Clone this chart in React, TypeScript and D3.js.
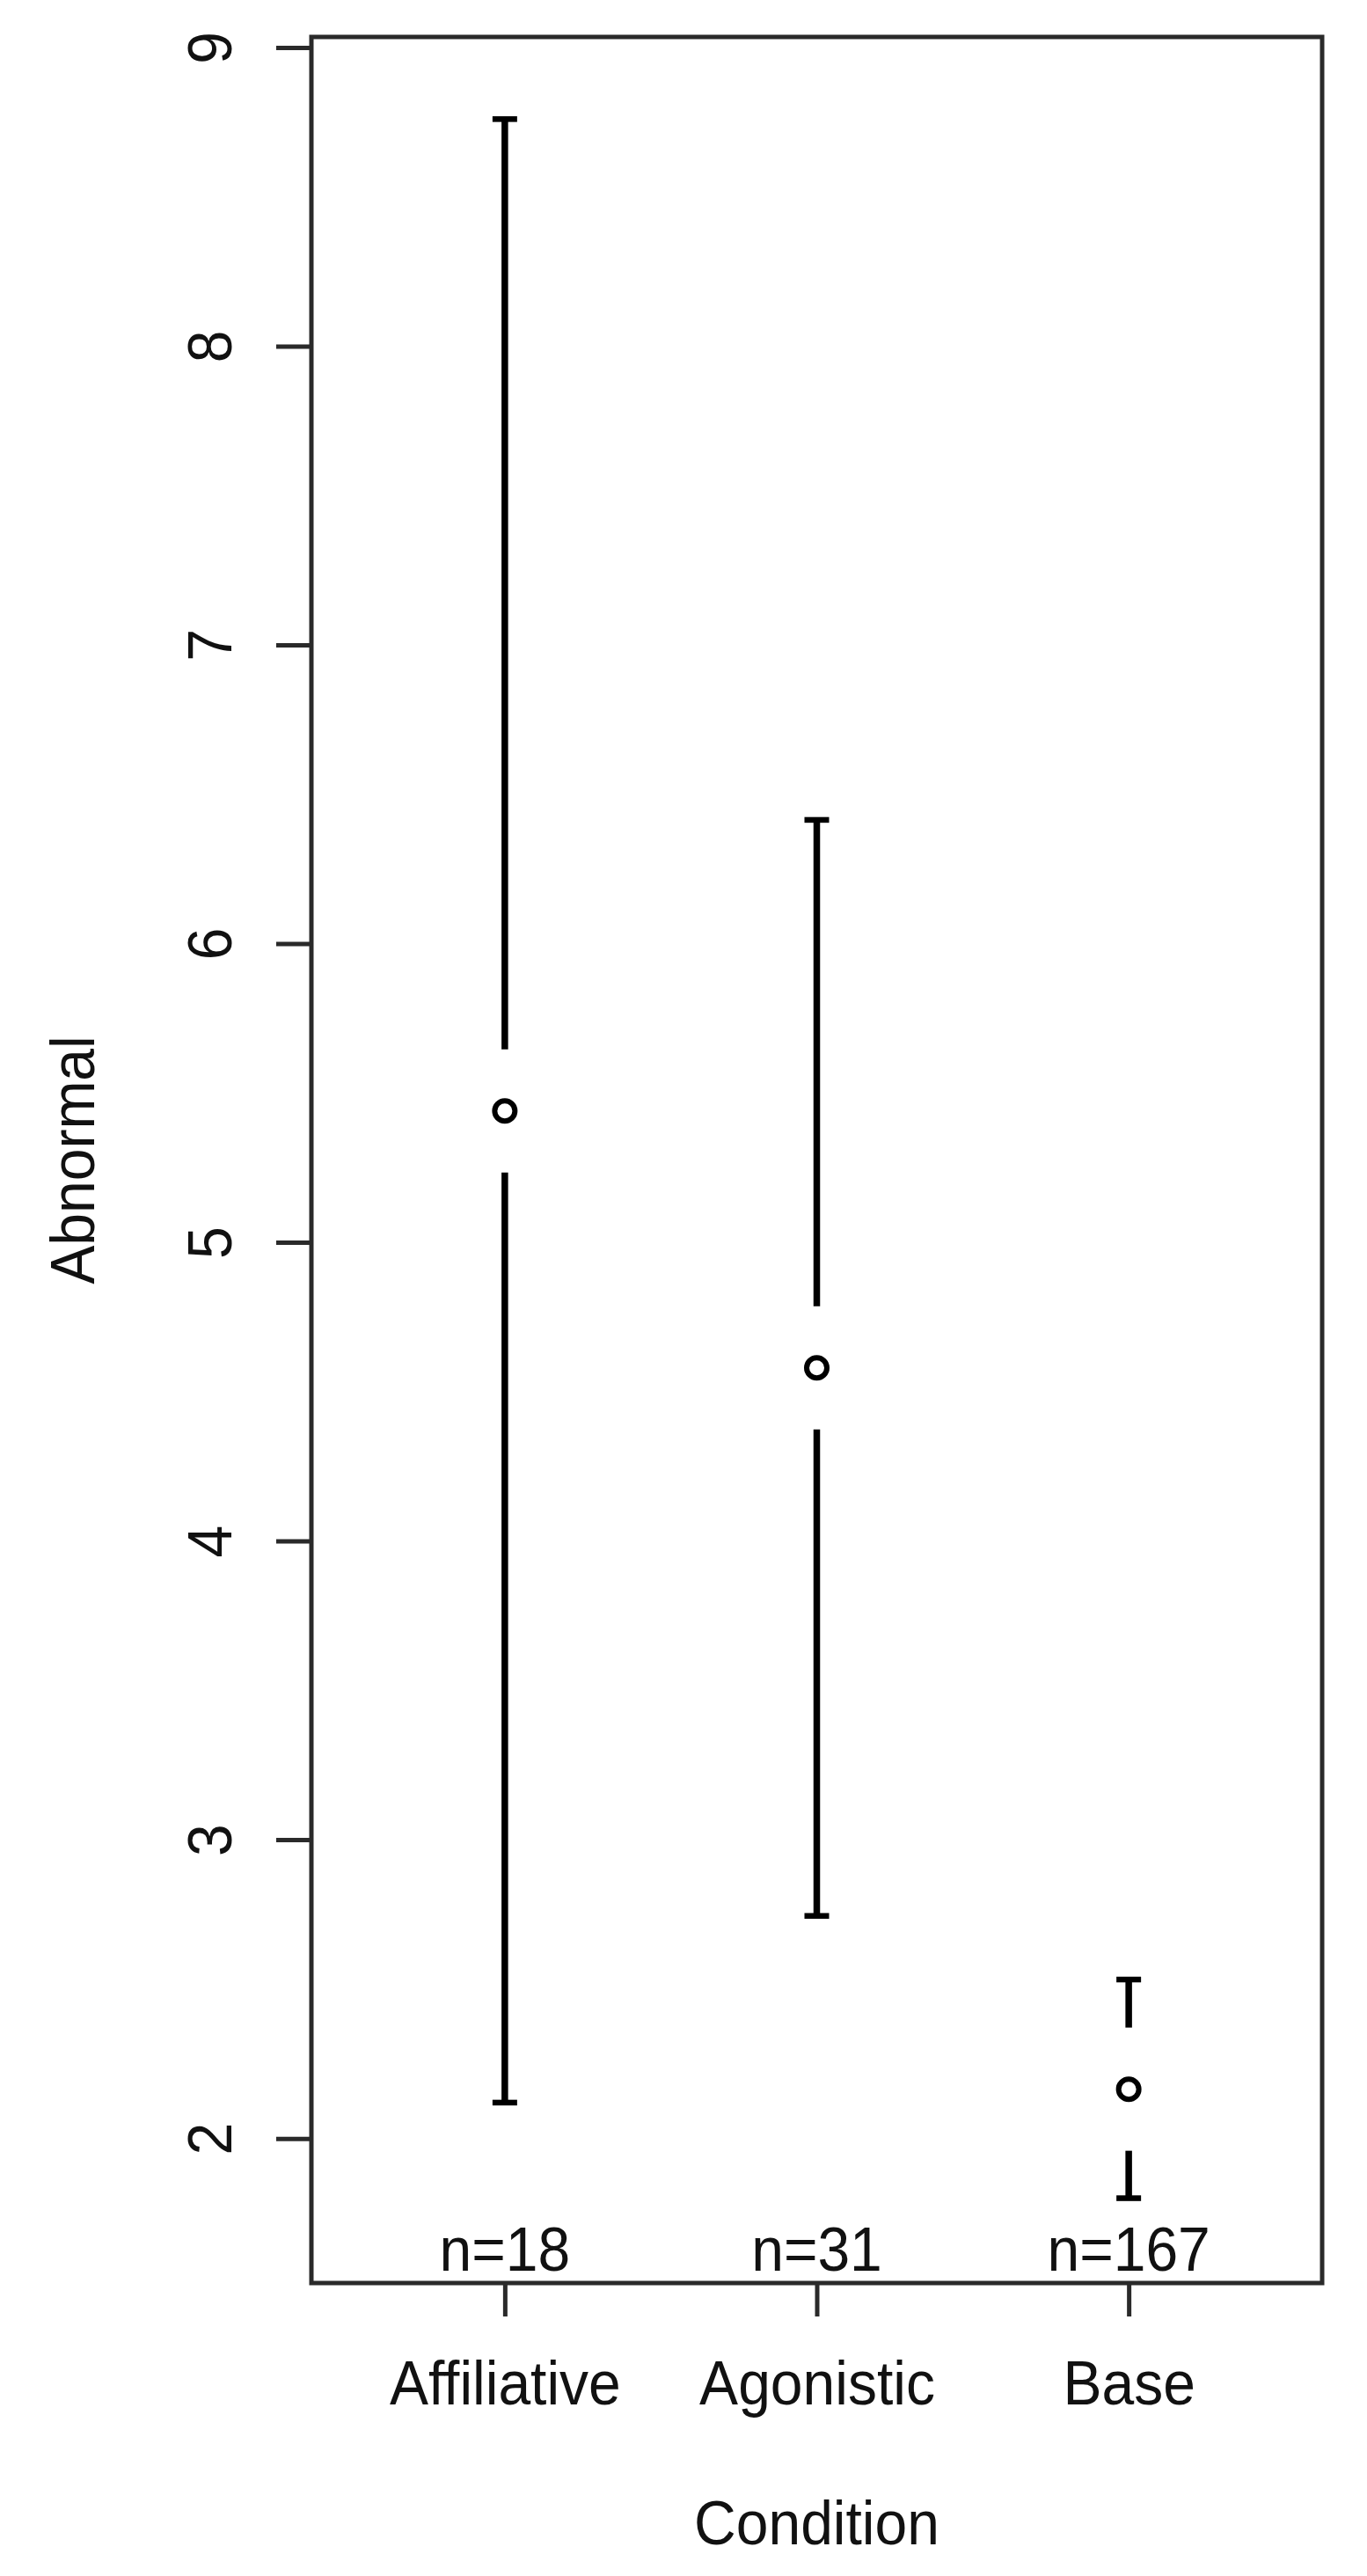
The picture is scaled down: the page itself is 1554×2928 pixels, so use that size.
import { useEffect, useRef } from "react";
import * as d3 from "d3";

// data (group means with CI bars)
const conditions = ["Affiliative", "Agonistic", "Base"];
const counts = [18, 31, 167];
const means = [5.44, 4.58, 2.165];
const upper = [8.76, 6.414, 2.532];
const lower = [2.12, 2.745, 1.8];
const yTicks = [2, 3, 4, 5, 6, 7, 8, 9];

const width = 1554;
const height = 2928;

// plot box in px
const box = { left: 354, right: 1503, top: 42, bottom: 2595 };

function App() {
    const ref = useRef<SVGSVGElement>(null);

    useEffect(() => {
        document.body.style.margin = "0";

        const svg = d3.select(ref.current);
        svg.selectAll("*").remove();

        const font = "'Liberation Sans', Arial, sans-serif";
        const fontSize = 66;
        const ink = "#2a2a2a";

        // R style scales: 4% padding around the ranges
        const xScale = d3.scaleLinear([0.38, 3.62], [box.left, box.right]);
        const yScale = d3.scaleLinear([1.516, 9.035], [box.bottom, box.top]);

        // frame
        svg.append("rect")
            .attr("x", box.left)
            .attr("y", box.top)
            .attr("width", box.right - box.left)
            .attr("height", box.bottom - box.top)
            .attr("fill", "none")
            .attr("stroke", ink)
            .attr("stroke-width", 5);

        // y axis
        const leftAxis = d3.axisLeft(yScale)
            .tickValues(yTicks)
            .tickSize(40)
            .tickSizeOuter(0)
            .tickFormat(d3.format("d"));

        const gy = svg.append("g")
            .attr("transform", `translate(${box.left}, 0)`)
            .call(leftAxis);
        gy.select(".domain").remove();
        gy.selectAll(".tick line").attr("stroke", ink).attr("stroke-width", 5);
        gy.selectAll(".tick text")
            .attr("x", null)
            .attr("dy", null)
            .attr("transform", `translate(${263 - box.left}, 0) rotate(-90) scale(1, 1.06)`)
            .attr("text-anchor", "middle")
            .style("font-family", font)
            .style("font-size", fontSize + "px")
            .attr("fill", "#111");

        // x axis
        const bottomAxis = d3.axisBottom(xScale)
            .tickValues([1, 2, 3])
            .tickSize(38)
            .tickSizeOuter(0)
            .tickFormat((d) => conditions[+d - 1]);

        const gx = svg.append("g")
            .attr("transform", `translate(0, ${box.bottom})`)
            .call(bottomAxis);
        gx.select(".domain").remove();
        gx.selectAll(".tick line").attr("stroke", ink).attr("stroke-width", 5);
        gx.selectAll(".tick text")
            .attr("y", null)
            .attr("dy", null)
            .attr("transform", `translate(0, ${2733 - box.bottom}) scale(1, 1.06)`)
            .style("font-family", font)
            .style("font-size", fontSize + "px")
            .attr("fill", "#111");

        // axis titles
        svg.append("text")
            .text("Condition")
            .attr("transform", `translate(${(box.left + box.right) / 2}, 2892) scale(1, 1.06)`)
            .attr("text-anchor", "middle")
            .style("font-family", font)
            .style("font-size", fontSize + "px")
            .attr("fill", "#111");

        svg.append("text")
            .text("Abnormal")
            .attr("transform", `translate(107, ${(box.top + box.bottom) / 2}) rotate(-90) scale(1, 1.06)`)
            .attr("text-anchor", "middle")
            .style("font-family", font)
            .style("font-size", fontSize + "px")
            .attr("fill", "#111");

        const data = conditions.map((c, i) => ({
            name: c,
            pos: i + 1,
            n: counts[i],
            mean: means[i],
            hi: upper[i],
            lo: lower[i]
        }));

        const gap = 70; // px left open round the mean marker
        const capHalf = 14;
        const bars = svg.append("g").attr("stroke", "#000").attr("fill", "none");

        data.forEach((d) => {
            const cx = xScale(d.pos);
            const cy = yScale(d.mean);
            // upper whisker
            bars.append("line")
                .attr("x1", cx).attr("x2", cx)
                .attr("y1", yScale(d.hi)).attr("y2", cy - gap)
                .attr("stroke-width", 7.5);
            // lower whisker
            bars.append("line")
                .attr("x1", cx).attr("x2", cx)
                .attr("y1", cy + gap).attr("y2", yScale(d.lo))
                .attr("stroke-width", 7.5);
            // caps
            [d.hi, d.lo].forEach((v) => {
                bars.append("line")
                    .attr("x1", cx - capHalf).attr("x2", cx + capHalf)
                    .attr("y1", yScale(v)).attr("y2", yScale(v))
                    .attr("stroke-width", 6.5);
            });
            // mean marker
            bars.append("circle")
                .attr("cx", cx)
                .attr("cy", cy)
                .attr("r", 11.5)
                .attr("stroke-width", 6);
        });

        // sample sizes
        svg.append("g")
            .selectAll("text")
            .data(data)
            .join("text")
            .text((d) => `n=${d.n}`)
            .attr("transform", (d) => `translate(${xScale(d.pos)}, 2581) scale(1, 1.06)`)
            .attr("text-anchor", "middle")
            .style("font-family", font)
            .style("font-size", fontSize + "px")
            .attr("fill", "#111");
    }, []);

    return (
        <svg ref={ref} width={width} height={height} style={{ display: "block", background: "#fff" }} />
    );
}

export default App;
